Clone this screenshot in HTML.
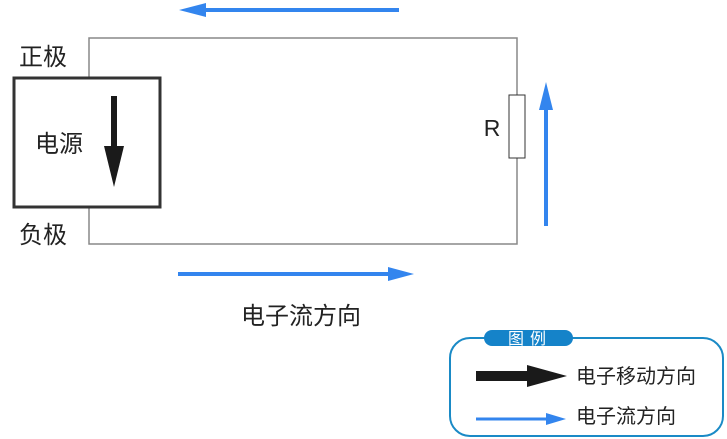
<!DOCTYPE html>
<html><head><meta charset="utf-8"><style>
html,body{margin:0;padding:0;background:#fff;}
body{width:727px;height:439px;overflow:hidden;position:relative;font-family:"Liberation Sans","Noto Sans CJK SC",sans-serif;}
</style></head><body>
<svg width="727" height="439" viewBox="0 0 727 439" xmlns="http://www.w3.org/2000/svg" style="position:absolute;left:0;top:0" font-family="Liberation Sans, Noto Sans CJK SC, sans-serif">
<polyline points="89,77 89,38 517,38 517,95" fill="none" stroke="#888" stroke-width="1.5"/>
<polyline points="89,207 89,244 517,244 517,158" fill="none" stroke="#888" stroke-width="1.5"/>
<rect x="509" y="95" width="16" height="63" fill="#fff" stroke="#333" stroke-width="1"/>
<text x="492" y="136" font-size="23" fill="#222" text-anchor="middle">R</text>
<rect x="14" y="78" width="146" height="129" fill="#fff" stroke="#333" stroke-width="3"/>
<text x="59" y="152" font-size="24" fill="#222" text-anchor="middle">电源</text>
<rect x="111" y="96" width="6" height="50" fill="#1a1a1a"/>
<polygon points="104,146 124,146 114,187" fill="#1a1a1a"/>
<text x="43" y="65" font-size="24" fill="#222" text-anchor="middle">正极</text>
<text x="43" y="243" font-size="24" fill="#222" text-anchor="middle">负极</text>
<line x1="399" y1="10" x2="200" y2="10" stroke="#3385ee" stroke-width="4"/>
<polygon points="179,10 206,3 206,17" fill="#3385ee"/>
<line x1="178" y1="274" x2="392" y2="274" stroke="#3385ee" stroke-width="4"/>
<polygon points="414,274 388,267 388,281" fill="#3385ee"/>
<line x1="546" y1="226" x2="546" y2="105" stroke="#3385ee" stroke-width="4"/>
<polygon points="546,82 539,110 553,110" fill="#3385ee"/>
<text x="301" y="324" font-size="24" fill="#222" text-anchor="middle">电子流方向</text>
<rect x="450" y="338" width="273" height="98" rx="20" ry="20" fill="#fff" stroke="#1a8ac6" stroke-width="2"/>
<rect x="484" y="330" width="89" height="16" rx="8" ry="8" fill="#1583c9"/>
<text x="530" y="344" font-size="16" fill="#fff" text-anchor="middle" letter-spacing="6">图例</text>
<rect x="476" y="371" width="55" height="10" fill="#1a1a1a"/>
<polygon points="527,365 567,376 527,387" fill="#1a1a1a"/>
<text x="576" y="383" font-size="20" fill="#222">电子移动方向</text>
<line x1="476" y1="419" x2="550" y2="419" stroke="#3385ee" stroke-width="3"/>
<polygon points="566,419 546,413 546,425" fill="#3385ee"/>
<text x="576" y="423" font-size="20" fill="#222">电子流方向</text>
</svg>
</body></html>
